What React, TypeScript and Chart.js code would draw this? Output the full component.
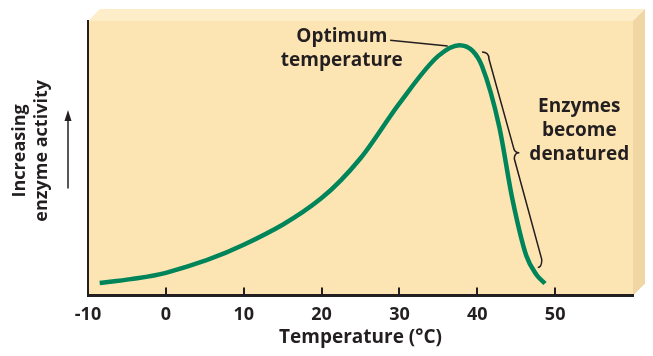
import React, { useEffect, useRef } from 'react';
import { Chart, registerables } from 'chart.js';

Chart.register(...registerables);

// ---- data ----
const temperatures = [-8.5, -4.5, 0, 10, 20, 25, 30, 35, 37.7, 39.4, 40.6, 42.8, 44.5, 46.3, 47.6, 48.7];
const activity = [4.6, 6.0, 8.3, 18.5, 35.5, 50, 70, 87.3, 91.2, 89.1, 83.6, 61.8, 35.3, 14.5, 7.6, 4.4];
const xTickLabels = [-10, 0, 10, 20, 30, 40, 50];
const xAxisTitle = 'Temperature (°C)';
const yAxisTitle = ['Increasing', 'enzyme activity'];
const optimumLabel = ['Optimum', 'temperature'];
const denaturedLabel = ['Enzymes', 'become', 'denatured'];

// annotation anchors in data units
const optimumTextAt = { x: 22.6, y: 89.8 };
const optimumLeaderFrom = { x: 28.8, y: 93 };
const optimumLeaderTo = { x: 36.2, y: 90.9 };
const denaturedTextAt = { x: 53.1, y: 60 };
const braceTop = { x: 40.6, y: 88.7 };
const braceTip = { x: 45.4, y: 52 };
const braceBottom = { x: 47.9, y: 10.2 };
const arrowFromY = 39;
const arrowToY = 67.6;
const yTitleCenterY = 52.7;

const INK = '#231f20';
const GREEN = '#00845a';
const FRONT = '#fde5b3';
const TOP = '#feedc9';
const SIDE = '#efd6a3';
const FONT = '"Open Sans", "Noto Sans", sans-serif';

const decorPlugin = {
  id: 'decor',
  beforeDraw(chart: any) {
    const { ctx, chartArea } = chart;
    const { left, right, top, bottom } = chartArea;
    const d = 12;
    ctx.save();
    ctx.fillStyle = FRONT;
    ctx.fillRect(left, top, right - left, bottom - top);
    ctx.fillStyle = TOP;
    ctx.beginPath();
    ctx.moveTo(left, top);
    ctx.lineTo(left + d, top - d);
    ctx.lineTo(right + d, top - d);
    ctx.lineTo(right, top);
    ctx.closePath();
    ctx.fill();
    ctx.fillStyle = SIDE;
    ctx.beginPath();
    ctx.moveTo(right, top);
    ctx.lineTo(right + d, top - d);
    ctx.lineTo(right + d, bottom - d);
    ctx.lineTo(right, bottom);
    ctx.closePath();
    ctx.fill();
    ctx.restore();
  },
  afterDraw(chart: any) {
    const { ctx, chartArea, scales } = chart;
    const xs = scales.x;
    const ys = scales.y;
    const px = (p: { x: number; y: number }) => ({ x: xs.getPixelForValue(p.x), y: ys.getPixelForValue(p.y) });
    ctx.save();
    // inward tick marks
    ctx.strokeStyle = INK;
    ctx.lineWidth = 2;
    xTickLabels.forEach((v) => {
      if (v === xs.min) return;
      const x = Math.round(xs.getPixelForValue(v));
      ctx.beginPath();
      ctx.moveTo(x, chartArea.bottom);
      ctx.lineTo(x, chartArea.bottom - 8);
      ctx.stroke();
    });

    // y axis title (rotated, two lines)
    ctx.fillStyle = INK;
    ctx.font = `bold 18px ${FONT}`;
    ctx.textAlign = 'center';
    ctx.textBaseline = 'middle';
    const cy = ys.getPixelForValue(yTitleCenterY);
    const lineXs = [chartArea.left - 68, chartArea.left - 46];
    yAxisTitle.forEach((t, i) => {
      ctx.save();
      ctx.translate(lineXs[i], cy);
      ctx.rotate(-Math.PI / 2);
      ctx.fillText(t, 0, 0);
      ctx.restore();
    });

    // arrow
    const ax = chartArea.left - 20;
    const ay0 = ys.getPixelForValue(arrowFromY);
    const ay1 = ys.getPixelForValue(arrowToY);
    ctx.lineWidth = 1.5;
    ctx.beginPath();
    ctx.moveTo(ax, ay0);
    ctx.lineTo(ax, ay1 + 8);
    ctx.stroke();
    ctx.beginPath();
    ctx.moveTo(ax, ay1);
    ctx.lineTo(ax - 3.5, ay1 + 11);
    ctx.lineTo(ax + 3.5, ay1 + 11);
    ctx.closePath();
    ctx.fill();

    // Optimum temperature label
    ctx.font = `bold 19px ${FONT}`;
    const ot = px(optimumTextAt);
    ctx.fillText(optimumLabel[0], ot.x, ot.y - 12);
    ctx.fillText(optimumLabel[1], ot.x, ot.y + 12);
    const l0 = px(optimumLeaderFrom);
    const l1 = px(optimumLeaderTo);
    ctx.lineWidth = 1.5;
    ctx.beginPath();
    ctx.moveTo(l0.x, l0.y);
    ctx.lineTo(l1.x, l1.y);
    ctx.stroke();

    // Enzymes become denatured label
    const dt = px(denaturedTextAt);
    denaturedLabel.forEach((t, i) => {
      ctx.fillText(t, dt.x, dt.y + (i - 1) * 24);
    });

    // brace
    const bt = px(braceTop);
    const tp = px(braceTip);
    const bb = px(braceBottom);
    ctx.lineWidth = 1.5;
    ctx.beginPath();
    ctx.moveTo(bt.x, bt.y);
    ctx.quadraticCurveTo(bt.x + 7, bt.y, bt.x + 7, bt.y + 7);
    ctx.lineTo(tp.x - 6, tp.y - 6);
    ctx.quadraticCurveTo(tp.x - 5, tp.y, tp.x, tp.y);
    ctx.quadraticCurveTo(tp.x - 5, tp.y, tp.x - 5, tp.y + 6);
    ctx.lineTo(bb.x + 3, bb.y - 8);
    ctx.quadraticCurveTo(bb.x + 3, bb.y, bb.x - 1, bb.y);
    ctx.stroke();
    ctx.restore();
  },
};

export default function App() {
  const ref = useRef<HTMLCanvasElement | null>(null);
  useEffect(() => {
    if (!ref.current) return;
    const chart = new Chart(ref.current, {
      type: 'line',
      data: {
        datasets: [
          {
            data: temperatures.map((t, i) => ({ x: t, y: activity[i] })),
            borderColor: GREEN,
            borderWidth: 4.5,
            borderCapStyle: 'butt',
            pointRadius: 0,
            cubicInterpolationMode: 'monotone',
            fill: false,
          },
        ],
      },
      options: {
        animation: false,
        responsive: true,
        maintainAspectRatio: false,
        layout: { padding: { top: 13, right: 12, left: 80, bottom: -1 } },
        plugins: { legend: { display: false }, tooltip: { enabled: false } },
        scales: {
          x: {
            type: 'linear',
            min: -10,
            max: 60,
            grid: { display: false, drawTicks: false },
            border: { display: true, color: INK, width: 3 },
            ticks: {
              stepSize: 10,
              autoSkip: false,
              maxRotation: 0,
              padding: 8,
              color: INK,
              font: { family: FONT, size: 18, weight: 'bold' },
              callback: (v: any) => (xTickLabels.includes(v) ? String(v) : ''),
            },
            title: {
              display: true,
              text: xAxisTitle,
              color: INK,
              font: { family: FONT, size: 19, weight: 'bold' },
              padding: { top: -7, bottom: 0 },
            },
          },
          y: {
            type: 'linear',
            min: 0,
            max: 100,
            grid: { display: false, drawTicks: false },
            border: { display: true, color: INK, width: 2 },
            ticks: { display: false },
          },
        },
      },
      plugins: [decorPlugin],
    });
    return () => chart.destroy();
  }, []);
  return (
    <div style={{ width: 637, height: 340, position: 'relative' }}>
      <canvas ref={ref} />
    </div>
  );
}
